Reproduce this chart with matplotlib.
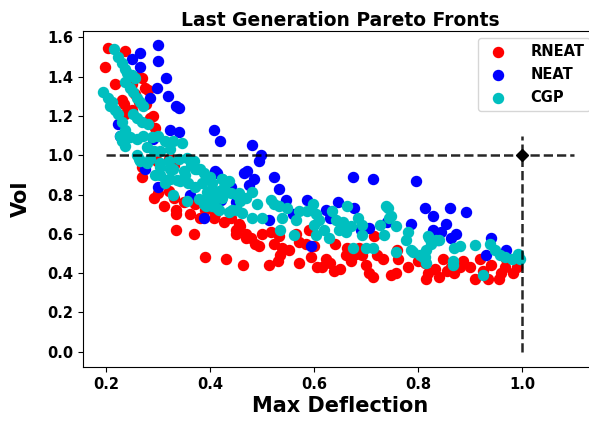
import matplotlib
matplotlib.use("Agg")
import matplotlib.pyplot as plt

# RNEAT front (max deflection, vol)
rneat_x = [0.204, 0.236, 0.197, 0.268, 0.275, 0.217, 0.26, 0.28, 0.277, 0.29, 0.233, 0.236,
           0.284, 0.294, 0.268, 0.268, 0.297, 0.32, 0.33, 0.23, 0.249, 0.262, 0.25, 0.255,
           0.291, 0.31, 0.333, 0.334, 0.333, 0.368, 0.389, 0.43, 0.463, 0.381, 0.407, 0.426,
           0.449, 0.458, 0.468, 0.32, 0.30,
           0.513, 0.535, 0.539, 0.552, 0.523, 0.516, 0.532, 0.478, 0.487, 0.494, 0.449, 0.455,
           0.468, 0.584, 0.594, 0.606, 0.616, 0.622, 0.639, 0.661, 0.664, 0.687, 0.693, 0.70,
           0.706, 0.713, 0.716, 0.732, 0.748, 0.758, 0.761, 0.565, 0.59,
           0.78, 0.816, 0.813, 0.832, 0.848, 0.855, 0.864, 0.88, 0.887, 0.90, 0.909, 0.919,
           0.925, 0.935, 0.955, 0.967, 0.983, 0.97,
           0.33, 0.35, 0.37, 0.39, 0.41, 0.36, 0.44, 0.50, 0.57, 0.60, 0.64, 0.68, 0.72, 0.76,
           0.80, 0.82, 0.84, 0.87, 0.94, 0.96, 0.99, 0.53, 0.57, 0.63, 0.65, 0.67]
rneat_y = [1.545, 1.53, 1.45, 1.39, 1.34, 1.36, 1.40, 1.33, 1.26, 1.20, 1.26, 1.21,
           1.19, 1.14, 0.94, 0.89, 0.97, 0.98, 0.95, 1.28, 1.23, 1.27, 1.36, 1.31,
           0.78, 0.74, 0.72, 0.70, 0.62, 0.60, 0.48, 0.47, 0.44, 0.68, 0.68, 0.66,
           0.60, 0.64, 0.58, 0.82, 0.81,
           0.44, 0.49, 0.53, 0.52, 0.55, 0.61, 0.59, 0.58, 0.55, 0.54, 0.62, 0.65,
           0.60, 0.55, 0.48, 0.43, 0.43, 0.47, 0.41, 0.49, 0.53, 0.53, 0.49, 0.44,
           0.40, 0.38, 0.59, 0.47, 0.39, 0.40, 0.47, 0.60, 0.62,
           0.43, 0.37, 0.45, 0.42, 0.47, 0.41, 0.43, 0.43, 0.46, 0.43, 0.37, 0.47,
           0.41, 0.37, 0.37, 0.43, 0.40, 0.47,
           0.78, 0.76, 0.75, 0.72, 0.70, 0.70, 0.68, 0.60, 0.56, 0.54, 0.55, 0.50, 0.49, 0.52,
           0.46, 0.40, 0.38, 0.40, 0.44, 0.40, 0.43, 0.46, 0.45, 0.45, 0.42, 0.46]

# NEAT front
neat_x = [0.30, 0.265, 0.30, 0.249, 0.265, 0.315, 0.297, 0.318, 0.284, 0.333, 0.339, 0.323,
          0.339, 0.407, 0.418, 0.41, 0.465, 0.275, 0.223, 0.226, 0.29,
          0.481, 0.497, 0.494, 0.471, 0.484, 0.523, 0.532, 0.674, 0.713, 0.796, 0.587, 0.645,
          0.545, 0.677, 0.706, 0.787, 0.594, 0.622,
          0.413, 0.439, 0.474, 0.449, 0.513, 0.387, 0.30,
          0.813, 0.861, 0.892, 0.829, 0.854, 0.829, 0.845, 0.874, 0.838, 0.864, 0.941, 0.97,
          0.93, 0.36, 0.42, 0.56, 0.63, 0.74, 0.69]
neat_y = [1.56, 1.52, 1.48, 1.49, 1.45, 1.39, 1.34, 1.30, 1.29, 1.25, 1.24, 1.13,
          1.12, 1.13, 1.07, 0.92, 0.91, 0.93, 1.16, 1.10, 1.08,
          1.05, 1.00, 0.97, 0.92, 0.88, 0.89, 0.83, 0.89, 0.88, 0.87, 0.77, 0.76,
          0.77, 0.73, 0.63, 0.65, 0.54, 0.72,
          0.91, 0.84, 0.85, 0.76, 0.67, 0.68, 0.84,
          0.73, 0.73, 0.71, 0.69, 0.65, 0.62, 0.61, 0.60, 0.57, 0.58, 0.58, 0.52,
          0.49, 0.80, 0.77, 0.70, 0.68, 0.66, 0.62]

# CGP front
cgp_x = [0.214, 0.223, 0.23, 0.236, 0.239, 0.249, 0.255, 0.236, 0.246, 0.252, 0.259, 0.265,
         0.271, 0.194, 0.204, 0.21, 0.207, 0.217, 0.223, 0.23, 0.252, 0.259, 0.268, 0.281,
         0.236, 0.226, 0.23, 0.236, 0.246, 0.259, 0.271, 0.288, 0.30, 0.313, 0.329, 0.345,
         0.278, 0.291, 0.304, 0.323, 0.259, 0.265, 0.284, 0.304, 0.32, 0.339, 0.355, 0.368,
         0.375, 0.387, 0.40, 0.423, 0.436, 0.329, 0.349, 0.304, 0.323, 0.342,
         0.262, 0.278, 0.304, 0.323, 0.294, 0.32, 0.336, 0.352, 0.362, 0.371, 0.391, 0.358,
         0.371, 0.384, 0.397, 0.41, 0.423, 0.426, 0.432, 0.452, 0.329, 0.355, 0.378, 0.387,
         0.403, 0.416, 0.436, 0.452, 0.461, 0.397, 0.313,
         0.381, 0.394, 0.403, 0.416, 0.429, 0.423, 0.407, 0.391, 0.413, 0.442, 0.439, 0.455,
         0.458, 0.468, 0.481, 0.49, 0.481, 0.50, 0.516, 0.523, 0.532, 0.539, 0.535, 0.548,
         0.565, 0.561, 0.571, 0.587, 0.597, 0.603, 0.60, 0.61, 0.603, 0.619, 0.629, 0.635,
         0.642, 0.648, 0.655, 0.661, 0.664, 0.671, 0.674, 0.684, 0.693, 0.693, 0.70, 0.713,
         0.726, 0.735, 0.742, 0.745, 0.758, 0.758,
         0.738, 0.748, 0.78, 0.777, 0.79, 0.787, 0.803, 0.813, 0.822, 0.825, 0.835, 0.841,
         0.816, 0.867, 0.87, 0.88, 0.909, 0.925, 0.938, 0.948, 0.957, 0.967, 0.98, 0.993,
         0.996, 0.819, 0.809, 0.816, 0.867]
cgp_y = [1.54, 1.50, 1.47, 1.44, 1.42, 1.41, 1.39, 1.37, 1.34, 1.32, 1.29, 1.27,
         1.25, 1.32, 1.29, 1.27, 1.25, 1.23, 1.21, 1.17, 1.21, 1.19, 1.17, 1.16,
         1.13, 1.10, 1.07, 1.045, 1.09, 1.08, 1.10, 1.09, 1.10, 1.07, 1.07, 1.06,
         1.04, 1.02, 1.02, 1.03, 1.00, 0.97, 0.98, 0.96, 0.97, 0.98, 0.985, 0.97,
         0.93, 0.91, 0.89, 0.88, 0.87, 0.93, 0.92, 0.90, 0.88, 0.87,
         0.98, 0.96, 0.94, 0.93, 0.90, 0.88, 0.875, 0.90, 0.95, 0.93, 0.89, 0.86,
         0.84, 0.86, 0.82, 0.81, 0.88, 0.84, 0.815, 0.80, 0.80, 0.765, 0.775, 0.75,
         0.74, 0.72, 0.71, 0.72, 0.705, 0.79, 0.86,
         0.93, 0.815, 0.86, 0.82, 0.82, 0.78, 0.765, 0.74, 0.73, 0.72, 0.81, 0.81,
         0.765, 0.78, 0.815, 0.75, 0.68, 0.68, 0.77, 0.75, 0.74, 0.68, 0.62, 0.73,
         0.67, 0.595, 0.715, 0.715, 0.75, 0.70, 0.645, 0.67, 0.595, 0.62, 0.58, 0.715,
         0.67, 0.62, 0.66, 0.61, 0.74, 0.64, 0.53, 0.68, 0.645, 0.595, 0.53, 0.53,
         0.645, 0.595, 0.73, 0.68, 0.64, 0.51,
         0.74, 0.69, 0.61, 0.57, 0.51, 0.52, 0.49, 0.48, 0.58, 0.55, 0.57, 0.57,
         0.52, 0.44, 0.53, 0.54, 0.545, 0.39, 0.55, 0.52, 0.49, 0.48, 0.47, 0.50,
         0.47, 0.59, 0.48, 0.45, 0.46]

# reference point and guide lines
ref_x = 1.0
ref_y = 1.0
guide_end = 1.1
guide_start_x = 0.2
guide_start_y = 0.0

fig = plt.figure(figsize=(5.89, 4.23), dpi=100)
ax = fig.add_axes([0.141, 0.132, 0.873, 0.794])

ax.scatter(rneat_x, rneat_y, c='r', s=52, label='RNEAT')
ax.scatter(neat_x, neat_y, c='b', s=52, label='NEAT')
ax.scatter(cgp_x, cgp_y, c='c', s=52, label='CGP')

ax.plot([guide_start_x, guide_end], [ref_y, ref_y], 'k--', lw=1.8, alpha=0.85)
ax.plot([ref_x, ref_x], [guide_start_y, guide_end], 'k--', lw=1.8, alpha=0.85)
ax.plot([ref_x], [ref_y], 'kD', markersize=6)

ax.set_xlim(0.155, 1.145)
ax.set_ylim(-0.078, 1.63)
ax.set_xticks([0.2, 0.4, 0.6, 0.8, 1.0])
ax.set_yticks([0.0, 0.2, 0.4, 0.6, 0.8, 1.0, 1.2, 1.4, 1.6])

for lbl in ax.get_xticklabels() + ax.get_yticklabels():
    lbl.set_fontweight('bold')
    lbl.set_fontsize(10.5)

ax.set_title('Last Generation Pareto Fronts', fontsize=13.5, fontweight='bold', pad=4)
ax.set_xlabel('Max Deflection', fontsize=15, fontweight='bold', labelpad=3)
ax.set_ylabel('Vol', fontsize=15, fontweight='bold', labelpad=12)

ax.legend(loc='upper left', bbox_to_anchor=(0.8115, 0.910), bbox_transform=fig.transFigure,
          borderaxespad=0, prop={'weight': 'bold', 'size': 10.5}, labelspacing=0.55,
          handletextpad=1.2)

plt.savefig('out.png', dpi=100)
